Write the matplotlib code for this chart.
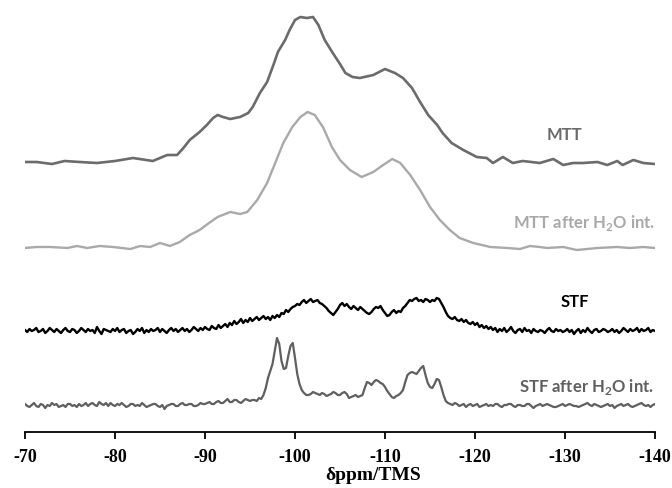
import numpy as np
import matplotlib
matplotlib.use("Agg")
import matplotlib.pyplot as plt

## 29Si NMR traces, chemical shift in ppm
## heights are relative to each trace's own baseline

mtt_ppm = [-69.9, -71.3, -73.0, -74.4, -76.1, -78.0, -80.0, -82.0, -84.2, -85.0,
           -85.8, -86.9, -87.6, -88.3, -89.4, -90.2, -90.9, -91.4, -92.0, -92.8,
           -93.9, -94.8, -95.3, -96.1, -96.9, -97.6, -98.1, -98.9, -99.4, -100.0,
           -100.6, -101.3, -102.0, -102.6, -103.3, -104.2, -105.0, -105.6, -106.4, -107.2,
           -108.7, -110.0, -111.1, -112.0, -113.0, -113.9, -114.8, -115.8, -116.4, -117.4,
           -118.7, -120.2, -121.3, -122.0, -123.1, -124.2, -125.3, -127.2, -128.7, -129.8,
           -130.9, -132.0, -133.6, -134.7, -135.8, -136.4, -137.6, -138.7, -140.0]
mtt = [1, 1, -1, 2, 1, 0, 2, 5, 2, 5,
       8, 8, 15, 23, 31, 38, 45, 48, 46, 44,
       46, 50, 56, 70, 81, 98, 111, 123, 133, 143,
       146, 145, 146, 138, 123, 110, 99, 90, 86, 85,
       88, 94, 90, 85, 75, 61, 48, 38, 30, 20,
       13, 6, 5, 0, 6, 0, 2, 0, 4, -2,
       0, 0, 1, -2, 2, -2, 3, 0, -1]

mtt_h2o_ppm = [-69.9, -71.3, -72.8, -74.7, -75.8, -76.9, -78.3, -79.8, -81.7, -82.8,
               -83.9, -85.0, -86.1, -87.2, -88.3, -89.4, -90.6, -91.4, -92.8, -93.9,
               -94.7, -95.8, -96.9, -97.8, -98.7, -99.7, -100.6, -101.4, -102.2, -103.1,
               -104.1, -105.0, -106.1, -107.4, -108.7, -109.8, -110.8, -111.7, -112.8, -113.9,
               -115.0, -116.1, -117.2, -118.3, -119.8, -121.7, -123.6, -125.0, -126.1, -127.2,
               -128.0, -129.8, -131.3, -133.6, -135.8, -137.2, -138.7, -140.0]
mtt_h2o = [0, 1, 1, 0, 2, 0, 2, 1, -1, 2,
           1, 5, 2, 6, 13, 18, 26, 31, 36, 34,
           36, 48, 65, 85, 105, 121, 131, 136, 133, 121,
           101, 88, 78, 71, 76, 83, 89, 85, 73, 58,
           41, 28, 18, 10, 5, 1, 0, -1, 2, 1,
           0, 1, -2, 0, 1, 0, 1, 0]

# STF traces read every 0.25 ppm from -70 to -140
stf_ppm = np.arange(-70, -140.1, -0.25)
stf = [1, -1, 2, 0, 1, 3, -1, 0, 2, -2,
       0, 3, 1, -1, 2, 0, -2, 1, 3, 0,
       -1, 2, 1, -2, 0, 3, 1, -1, 2, 0,
       1, -2, 4, 0, -3, 2, 1, 0, -1, 2,
       0, 3, -1, 1, 2, -2, 0, 1, -3, -1,
       2, 0, 3, -2, 1, -1, 2, 0, 1, 3,
       -1, 2, 0, -2, 1, 3, 0, 2, -1, 1,
       3, 0, 2, -1, 1, 4, 2, 0, 3, 1,
       4, 2, 1, 5, 3, 2, 6, 3, 5, 7,
       4, 8, 6, 10, 7, 9, 12, 8, 11, 9,
       13, 10, 12, 14, 11, 13, 15, 12, 14, 11,
       15, 13, 16, 14, 18, 17, 21, 19, 22, 24,
       25, 27, 26, 29, 31, 28, 30, 32, 29, 30,
       31, 28, 27, 25, 23, 20, 18, 16, 19, 22,
       26, 28, 25, 27, 24, 22, 25, 23, 21, 24,
       22, 20, 18, 17, 19, 22, 24, 23, 25, 21,
       18, 15, 16, 19, 21, 18, 20, 19, 23, 25,
       28, 31, 30, 32, 33, 30, 31, 29, 32, 31,
       29, 31, 30, 33, 32, 28, 24, 19, 15, 13,
       12, 14, 11, 10, 12, 9, 11, 8, 7, 9,
       6, 8, 4, 6, 3, 5, 2, 4, 1, 3,
       -1, 2, 0, 3, -1, 1, 4, 0, -2, 1,
       2, -1, 3, 0, 1, -2, 2, 0, -1, 1,
       0, -2, 1, 3, 0, -1, 2, 0, 1, -1,
       0, 2, -1, 1, -3, 0, 2, -2, 1, -1,
       3, 0, -2, 1, 2, -1, 0, 2, 1, -1,
       0, 2, -1, 1, -2, 0, 3, 1, -1, 2,
       0, 1, 3, -1, 2, 0, 1, 3, -1, 1,
       0]
stf_h2o = [2, 0, -1, 1, 3, 0, -1, 2, 1, -2,
           1, 0, 3, 1, 2, -1, 0, 1, -1, 2,
           2, 0, 1, -1, 2, 0, 1, 3, 0, 2,
           3, 1, 0, 4, 2, 1, 3, 0, 3, 1,
           0, 2, 1, 3, 1, -1, 0, 2, 2, 0,
           1, 0, 3, 1, -1, 0, 1, 2, 2, 0,
           -1, 1, -3, 0, 1, 2, 2, 0, 0, 2,
           3, 1, 1, 2, 2, 0, 0, 1, 3, 2,
           2, 3, 4, 2, 2, 4, 5, 3, 3, 5,
           7, 4, 4, 6, 6, 4, 3, 5, 7, 6,
           5, 6, 6, 5, 8, 7, 11, 18, 28, 35,
           42, 55, 68, 62, 45, 37, 38, 50, 60, 63,
           48, 32, 22, 16, 13, 11, 11, 12, 14, 13,
           12, 11, 13, 12, 10, 11, 12, 14, 13, 11,
           11, 13, 14, 12, 8, 9, 10, 11, 9, 10,
           11, 18, 24, 23, 21, 24, 26, 25, 23, 22,
           19, 15, 12, 9, 8, 10, 11, 13, 16, 24,
           31, 33, 34, 33, 32, 35, 38, 40, 31, 23,
           19, 18, 22, 27, 26, 19, 11, 5, 3, 2,
           1, 3, 2, 0, 1, 2, -1, 1, 2, 0,
           1, 2, -1, 0, 1, 2, 0, 1, 0, 2,
           2, 0, -1, 1, 1, 2, 2, 0, -1, 1,
           1, 0, 0, 2, 2, 0, -2, 0, 1, 2,
           0, 1, 2, 1, 0, -1, -1, 0, 1, 2,
           0, 1, 2, 1, 0, 0, -1, 0, 1, 2,
           3, 1, 0, 2, 1, 0, -1, 0, 1, 2,
           0, 1, -2, 0, 1, 2, 0, 1, 2, 0,
           -1, 0, 1, 2, 3, 1, 0, 1, -1, 1,
           2]

# vertical offsets for the stacked traces
offsets = {"mtt": 269, "mtt_h2o": 184, "stf": 101, "stf_h2o": 26}

xticks = [-70, -80, -90, -100, -110, -120, -130, -140]

plt.rcParams['mathtext.fontset'] = 'custom'
plt.rcParams['mathtext.rm'] = 'Lato:bold'
plt.rcParams['mathtext.bf'] = 'Lato:bold'

fig = plt.figure(figsize=(6.72, 4.88), dpi=100)
ax = fig.add_axes([25 / 672, 56 / 488, 630 / 672, 432 / 488])

ax.plot(mtt_ppm, np.array(mtt) + offsets["mtt"], color="#6b6b6b", lw=1.9,
        solid_joinstyle="round")
ax.plot(mtt_h2o_ppm, np.array(mtt_h2o) + offsets["mtt_h2o"], color="#a9a9a9", lw=1.7,
        solid_joinstyle="round")
ax.plot(stf_ppm, np.array(stf) + offsets["stf"], color="#000000", lw=1.7)
ax.plot(stf_ppm, np.array(stf_h2o) + offsets["stf_h2o"], color="#5f5f5f", lw=1.6)

lab = dict(family="Lato", fontweight="bold", fontsize=12, ha="center", va="center")
ax.text(-130.0, 297, "MTT", color="#6b6b6b", **lab)
ax.text(-132.1, 209, r"MTT after H$_\mathbf{2}$O int.", color="#a9a9a9", **lab)
ax.text(-131.1, 130, "STF", color="#000000", **lab)
ax.text(-132.4, 45, r"STF after H$_\mathbf{2}$O int.", color="#5f5f5f", **lab)

ax.set_xlim(-70, -140)
ax.set_ylim(0, 432)
ax.set_xticks(xticks)
ax.set_xticklabels([str(t) for t in xticks], family="Liberation Serif",
                   fontweight="bold", fontsize=13)
ax.set_yticks([])
for s in ["top", "left", "right"]:
    ax.spines[s].set_visible(False)
ax.spines["bottom"].set_linewidth(1.3)
ax.tick_params(axis="x", direction="out", length=5, width=1.3, pad=7)
# axis title sits a bit right of centre in the original
ax.set_xlabel("δppm/TMS", family="Liberation Serif", fontweight="bold",
              fontsize=14, labelpad=1, x=0.552)

fig.savefig("out.png", dpi=100)
